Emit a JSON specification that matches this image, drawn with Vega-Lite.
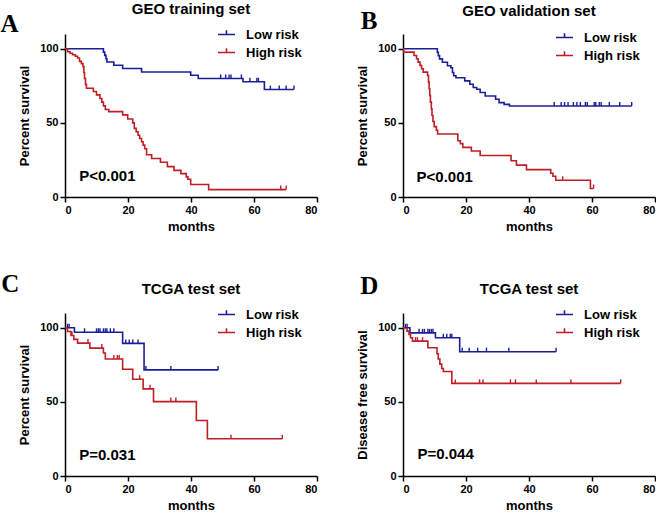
{
  "$schema": "https://vega.github.io/schema/vega-lite/v6.json",
  "background": "white",
  "padding": {"left": 0, "top": 2, "right": 0, "bottom": 0},
  "columns": 2,
  "align": "each",
  "spacing": {"row": 38, "column": 38},
  "resolve": {"scale": {"color": "independent", "stroke": "independent"}, "legend": {"color": "independent"}},
  "config": {
    "view": {"stroke": null},
    "axis": {
      "grid": false,
      "domainColor": "black", "domainWidth": 1.5,
      "tickColor": "black", "tickWidth": 1.5, "tickSize": 5,
      "labelFont": "Liberation Sans", "labelFontSize": 11, "labelFontWeight": "bold", "labelColor": "black", "labelPadding": 2,
      "titleFont": "Liberation Sans", "titleFontSize": 13, "titleFontWeight": "bold", "titleColor": "black"
    },
    "axisX": {"titlePadding": 5},
    "axisY": {"titlePadding": 8},
    "legend": {
      "symbolSize": 289, "symbolStrokeWidth": 1.6,
      "labelFont": "Liberation Sans", "labelFontSize": 13, "labelFontWeight": "bold", "labelColor": "black",
      "labelOffset": 10, "rowPadding": 1, "padding": 0
    },
    "title": {"font": "Liberation Sans", "fontSize": 15, "fontWeight": "bold", "color": "black", "anchor": "middle", "frame": "group"}
  },
  "datasets": {
    "A_curve": [
      {"group": "Low risk", "month": 0, "survival": 100},
      {"group": "Low risk", "month": 12.2, "survival": 97.8},
      {"group": "Low risk", "month": 12.6, "survival": 95.6},
      {"group": "Low risk", "month": 13, "survival": 93.3},
      {"group": "Low risk", "month": 13.3, "survival": 91.1},
      {"group": "Low risk", "month": 15.5, "survival": 88.9},
      {"group": "Low risk", "month": 18.3, "survival": 86.7},
      {"group": "Low risk", "month": 24.3, "survival": 84.4},
      {"group": "Low risk", "month": 39.9, "survival": 82.2},
      {"group": "Low risk", "month": 42.3, "survival": 80},
      {"group": "Low risk", "month": 56.5, "survival": 77.8},
      {"group": "Low risk", "month": 63.3, "survival": 72.5},
      {"group": "Low risk", "month": 72.7, "survival": 72.5},
      {"group": "High risk", "month": 0, "survival": 100},
      {"group": "High risk", "month": 0.8, "survival": 98},
      {"group": "High risk", "month": 1.6, "survival": 97},
      {"group": "High risk", "month": 2.4, "survival": 96},
      {"group": "High risk", "month": 3.3, "survival": 95},
      {"group": "High risk", "month": 4, "survival": 93.8},
      {"group": "High risk", "month": 4.6, "survival": 91.5},
      {"group": "High risk", "month": 5.2, "survival": 90},
      {"group": "High risk", "month": 5.7, "survival": 88},
      {"group": "High risk", "month": 6, "survival": 84},
      {"group": "High risk", "month": 6.2, "survival": 80},
      {"group": "High risk", "month": 6.5, "survival": 76},
      {"group": "High risk", "month": 6.8, "survival": 73.4},
      {"group": "High risk", "month": 9, "survival": 71.2},
      {"group": "High risk", "month": 10, "survival": 68.9},
      {"group": "High risk", "month": 11.1, "survival": 66.5},
      {"group": "High risk", "month": 11.7, "survival": 64},
      {"group": "High risk", "month": 12.2, "survival": 61.5},
      {"group": "High risk", "month": 12.8, "survival": 59},
      {"group": "High risk", "month": 13.9, "survival": 57.6},
      {"group": "High risk", "month": 18.3, "survival": 55.4},
      {"group": "High risk", "month": 19.9, "survival": 52.6},
      {"group": "High risk", "month": 21.5, "survival": 50},
      {"group": "High risk", "month": 22, "survival": 46.3},
      {"group": "High risk", "month": 22.6, "survival": 44},
      {"group": "High risk", "month": 23.2, "survival": 41.7},
      {"group": "High risk", "month": 23.7, "survival": 39.5},
      {"group": "High risk", "month": 24.3, "survival": 37.3},
      {"group": "High risk", "month": 24.8, "survival": 35},
      {"group": "High risk", "month": 25.3, "survival": 32.6},
      {"group": "High risk", "month": 25.9, "survival": 28.5},
      {"group": "High risk", "month": 27.5, "survival": 26},
      {"group": "High risk", "month": 30.3, "survival": 23.5},
      {"group": "High risk", "month": 32.5, "survival": 20.5},
      {"group": "High risk", "month": 34.6, "survival": 18},
      {"group": "High risk", "month": 36.8, "survival": 15.8},
      {"group": "High risk", "month": 38.5, "survival": 13.6},
      {"group": "High risk", "month": 39, "survival": 12},
      {"group": "High risk", "month": 39.9, "survival": 8.4},
      {"group": "High risk", "month": 45.6, "survival": 5},
      {"group": "High risk", "month": 70.2, "survival": 5}
    ],
    "A_censor": [
      {"group": "Low risk", "month": 49.4, "survival": 80},
      {"group": "Low risk", "month": 51, "survival": 80},
      {"group": "Low risk", "month": 52.1, "survival": 80},
      {"group": "Low risk", "month": 52.7, "survival": 80},
      {"group": "Low risk", "month": 56, "survival": 80},
      {"group": "Low risk", "month": 58.7, "survival": 77.8},
      {"group": "Low risk", "month": 60.9, "survival": 77.8},
      {"group": "Low risk", "month": 61.4, "survival": 77.8},
      {"group": "Low risk", "month": 65.2, "survival": 72.5},
      {"group": "Low risk", "month": 68, "survival": 72.5},
      {"group": "Low risk", "month": 70.2, "survival": 72.5},
      {"group": "Low risk", "month": 72.7, "survival": 72.5},
      {"group": "High risk", "month": 68.5, "survival": 5},
      {"group": "High risk", "month": 70.2, "survival": 5}
    ],
    "B_curve": [
      {"group": "Low risk", "month": 0, "survival": 100},
      {"group": "Low risk", "month": 10.9, "survival": 97.7},
      {"group": "Low risk", "month": 11.2, "survival": 95.4},
      {"group": "Low risk", "month": 11.6, "survival": 93.2},
      {"group": "Low risk", "month": 12.5, "survival": 90.9},
      {"group": "Low risk", "month": 14.1, "survival": 88.6},
      {"group": "Low risk", "month": 15.2, "survival": 87.2},
      {"group": "Low risk", "month": 15.7, "survival": 84},
      {"group": "Low risk", "month": 16.1, "survival": 81.8},
      {"group": "Low risk", "month": 16.8, "survival": 80.5},
      {"group": "Low risk", "month": 19.6, "survival": 78.4},
      {"group": "Low risk", "month": 21.2, "survival": 76.1},
      {"group": "Low risk", "month": 22.3, "survival": 73.9},
      {"group": "Low risk", "month": 23.4, "survival": 72.7},
      {"group": "Low risk", "month": 24.5, "survival": 70.5},
      {"group": "Low risk", "month": 26.1, "survival": 68.2},
      {"group": "Low risk", "month": 29.4, "survival": 66},
      {"group": "Low risk", "month": 30.5, "survival": 63.7},
      {"group": "Low risk", "month": 32.1, "survival": 62.5},
      {"group": "Low risk", "month": 33.8, "survival": 61.4},
      {"group": "Low risk", "month": 72.6, "survival": 61.4},
      {"group": "High risk", "month": 0, "survival": 100},
      {"group": "High risk", "month": 0.2, "survival": 97.8},
      {"group": "High risk", "month": 3.5, "survival": 95.5},
      {"group": "High risk", "month": 4.3, "survival": 93.3},
      {"group": "High risk", "month": 4.8, "survival": 91},
      {"group": "High risk", "month": 5.4, "survival": 88.8},
      {"group": "High risk", "month": 5.9, "survival": 86.5},
      {"group": "High risk", "month": 6.4, "survival": 84.3},
      {"group": "High risk", "month": 7.8, "survival": 82},
      {"group": "High risk", "month": 8.1, "survival": 77.5},
      {"group": "High risk", "month": 8.3, "survival": 73},
      {"group": "High risk", "month": 8.5, "survival": 68.5},
      {"group": "High risk", "month": 8.7, "survival": 64},
      {"group": "High risk", "month": 9, "survival": 59.5},
      {"group": "High risk", "month": 9.2, "survival": 55},
      {"group": "High risk", "month": 9.5, "survival": 51},
      {"group": "High risk", "month": 9.9, "survival": 47.5},
      {"group": "High risk", "month": 10.6, "survival": 45},
      {"group": "High risk", "month": 11, "survival": 42.5},
      {"group": "High risk", "month": 17.4, "survival": 38},
      {"group": "High risk", "month": 18.2, "survival": 36},
      {"group": "High risk", "month": 19, "survival": 33.5},
      {"group": "High risk", "month": 21.7, "survival": 31},
      {"group": "High risk", "month": 24.5, "survival": 28},
      {"group": "High risk", "month": 34.3, "survival": 24.5},
      {"group": "High risk", "month": 36, "survival": 21.5},
      {"group": "High risk", "month": 39.2, "survival": 18.5},
      {"group": "High risk", "month": 46.9, "survival": 16},
      {"group": "High risk", "month": 47.6, "survival": 14},
      {"group": "High risk", "month": 48.5, "survival": 11.3},
      {"group": "High risk", "month": 59.5, "survival": 5.7},
      {"group": "High risk", "month": 60.5, "survival": 5.7}
    ],
    "B_censor": [
      {"group": "Low risk", "month": 48, "survival": 61.4},
      {"group": "Low risk", "month": 50.2, "survival": 61.4},
      {"group": "Low risk", "month": 51.3, "survival": 61.4},
      {"group": "Low risk", "month": 52.4, "survival": 61.4},
      {"group": "Low risk", "month": 54.1, "survival": 61.4},
      {"group": "Low risk", "month": 55.2, "survival": 61.4},
      {"group": "Low risk", "month": 56.3, "survival": 61.4},
      {"group": "Low risk", "month": 57.9, "survival": 61.4},
      {"group": "Low risk", "month": 58.5, "survival": 61.4},
      {"group": "Low risk", "month": 60.7, "survival": 61.4},
      {"group": "Low risk", "month": 61.2, "survival": 61.4},
      {"group": "Low risk", "month": 62.3, "survival": 61.4},
      {"group": "Low risk", "month": 62.9, "survival": 61.4},
      {"group": "Low risk", "month": 65.5, "survival": 61.4},
      {"group": "Low risk", "month": 68.8, "survival": 61.4},
      {"group": "Low risk", "month": 72.6, "survival": 61.4},
      {"group": "High risk", "month": 50.7, "survival": 11.3},
      {"group": "High risk", "month": 60.5, "survival": 5.7}
    ],
    "C_curve": [
      {"group": "Low risk", "month": 0, "survival": 100},
      {"group": "Low risk", "month": 3, "survival": 97},
      {"group": "Low risk", "month": 18.3, "survival": 89.5},
      {"group": "Low risk", "month": 25.1, "survival": 71.6},
      {"group": "Low risk", "month": 48.6, "survival": 71.6},
      {"group": "High risk", "month": 0, "survival": 100},
      {"group": "High risk", "month": 0.8, "survival": 97.5},
      {"group": "High risk", "month": 1.9, "survival": 94.8},
      {"group": "High risk", "month": 2.8, "survival": 92.2},
      {"group": "High risk", "month": 4, "survival": 89.7},
      {"group": "High risk", "month": 7.9, "survival": 86.3},
      {"group": "High risk", "month": 12.2, "survival": 83},
      {"group": "High risk", "month": 12.8, "survival": 79},
      {"group": "High risk", "month": 18.3, "survival": 72},
      {"group": "High risk", "month": 21.5, "survival": 65.3},
      {"group": "High risk", "month": 24.8, "survival": 58.8},
      {"group": "High risk", "month": 28.1, "survival": 50.2},
      {"group": "High risk", "month": 41.7, "survival": 37.5},
      {"group": "High risk", "month": 45.2, "survival": 25.1},
      {"group": "High risk", "month": 69, "survival": 25.1}
    ],
    "C_censor": [
      {"group": "Low risk", "month": 0.8, "survival": 100},
      {"group": "Low risk", "month": 1.3, "survival": 100},
      {"group": "Low risk", "month": 6.2, "survival": 97},
      {"group": "Low risk", "month": 10, "survival": 97},
      {"group": "Low risk", "month": 10.6, "survival": 97},
      {"group": "Low risk", "month": 11.1, "survival": 97},
      {"group": "Low risk", "month": 12.2, "survival": 97},
      {"group": "Low risk", "month": 12.8, "survival": 97},
      {"group": "Low risk", "month": 13.3, "survival": 97},
      {"group": "Low risk", "month": 14.4, "survival": 97},
      {"group": "Low risk", "month": 15.5, "survival": 97},
      {"group": "Low risk", "month": 19.3, "survival": 89.5},
      {"group": "Low risk", "month": 20.4, "survival": 89.5},
      {"group": "Low risk", "month": 21.5, "survival": 89.5},
      {"group": "Low risk", "month": 23.2, "survival": 89.5},
      {"group": "Low risk", "month": 25.7, "survival": 71.6},
      {"group": "Low risk", "month": 33.6, "survival": 71.6},
      {"group": "Low risk", "month": 48.6, "survival": 71.6},
      {"group": "High risk", "month": 2.2, "survival": 94.8},
      {"group": "High risk", "month": 7.3, "survival": 89.7},
      {"group": "High risk", "month": 11.7, "survival": 86.3},
      {"group": "High risk", "month": 15.5, "survival": 79},
      {"group": "High risk", "month": 16.6, "survival": 79},
      {"group": "High risk", "month": 17.2, "survival": 79},
      {"group": "High risk", "month": 23.7, "survival": 65.3},
      {"group": "High risk", "month": 27, "survival": 58.8},
      {"group": "High risk", "month": 33.6, "survival": 50.2},
      {"group": "High risk", "month": 35.2, "survival": 50.2},
      {"group": "High risk", "month": 52.7, "survival": 25.1},
      {"group": "High risk", "month": 69, "survival": 25.1}
    ],
    "D_curve": [
      {"group": "Low risk", "month": 0, "survival": 100},
      {"group": "Low risk", "month": 2.2, "survival": 96.6},
      {"group": "Low risk", "month": 10.3, "survival": 93.3},
      {"group": "Low risk", "month": 18, "survival": 83.9},
      {"group": "Low risk", "month": 48.6, "survival": 83.9},
      {"group": "High risk", "month": 0, "survival": 100},
      {"group": "High risk", "month": 1.3, "survival": 97.8},
      {"group": "High risk", "month": 1.9, "survival": 95.5},
      {"group": "High risk", "month": 2.4, "survival": 93.3},
      {"group": "High risk", "month": 3, "survival": 91},
      {"group": "High risk", "month": 7.9, "survival": 86.5},
      {"group": "High risk", "month": 10.8, "survival": 82.5},
      {"group": "High risk", "month": 11.2, "survival": 79},
      {"group": "High risk", "month": 11.7, "survival": 75.5},
      {"group": "High risk", "month": 12.3, "survival": 72.5},
      {"group": "High risk", "month": 12.8, "survival": 70.5},
      {"group": "High risk", "month": 15.5, "survival": 62.5},
      {"group": "High risk", "month": 69.1, "survival": 62.5}
    ],
    "D_censor": [
      {"group": "Low risk", "month": 0.8, "survival": 100},
      {"group": "Low risk", "month": 1.3, "survival": 100},
      {"group": "Low risk", "month": 5.1, "survival": 96.6},
      {"group": "Low risk", "month": 6.2, "survival": 96.6},
      {"group": "Low risk", "month": 6.8, "survival": 96.6},
      {"group": "Low risk", "month": 7.9, "survival": 96.6},
      {"group": "Low risk", "month": 8.4, "survival": 96.6},
      {"group": "Low risk", "month": 9, "survival": 96.6},
      {"group": "Low risk", "month": 9.5, "survival": 96.6},
      {"group": "Low risk", "month": 12.8, "survival": 93.3},
      {"group": "Low risk", "month": 13.9, "survival": 93.3},
      {"group": "Low risk", "month": 15, "survival": 93.3},
      {"group": "Low risk", "month": 15.5, "survival": 93.3},
      {"group": "Low risk", "month": 18.8, "survival": 83.9},
      {"group": "Low risk", "month": 21, "survival": 83.9},
      {"group": "Low risk", "month": 23.7, "survival": 83.9},
      {"group": "Low risk", "month": 26.5, "survival": 83.9},
      {"group": "Low risk", "month": 33.6, "survival": 83.9},
      {"group": "Low risk", "month": 48.6, "survival": 83.9},
      {"group": "High risk", "month": 4, "survival": 91},
      {"group": "High risk", "month": 4.6, "survival": 91},
      {"group": "High risk", "month": 6.2, "survival": 91},
      {"group": "High risk", "month": 16.6, "survival": 62.5},
      {"group": "High risk", "month": 24.3, "survival": 62.5},
      {"group": "High risk", "month": 25.4, "survival": 62.5},
      {"group": "High risk", "month": 34.1, "survival": 62.5},
      {"group": "High risk", "month": 35.7, "survival": 62.5},
      {"group": "High risk", "month": 42.3, "survival": 62.5},
      {"group": "High risk", "month": 53.3, "survival": 62.5},
      {"group": "High risk", "month": 69.1, "survival": 62.5}
    ]
  },
  "concat": [
    {
      "title": {"text": "GEO training set", "offset": -5},
      "width": 252, "height": 163,
      "layer": [
        {"data": {"name": "A_curve"}, "mark": {"type": "line", "interpolate": "step-after", "strokeWidth": 1.6},
         "encoding": {
           "x": {"field": "month", "type": "quantitative", "scale": {"domain": [0, 80], "nice": false}, "axis": {"values": [0, 20, 40, 60, 80], "title": "months"}},
           "y": {"field": "survival", "type": "quantitative", "scale": {"domain": [0, 110], "nice": false}, "axis": {"values": [0, 50, 100], "title": "Percent survival"}},
           "color": {"field": "group", "type": "nominal", "scale": {"domain": ["Low risk", "High risk"], "range": ["#1b1f96", "#bf1e24"]},
             "legend": {"title": null, "orient": "none", "legendX": 152, "legendY": -9, "symbolType": "M-1,0H1M0,0V-0.5", "symbolSize": 289, "symbolStrokeWidth": 1.6, "labelFont": "Liberation Sans", "labelFontSize": 13, "labelFontWeight": "bold", "labelColor": "black", "labelOffset": 10, "rowPadding": 1, "padding": 0}}
         }},
        {"data": {"name": "A_censor"}, "mark": {"type": "point", "shape": "M0,0V-1", "size": 64, "filled": false, "strokeWidth": 1.4, "opacity": 1},
         "encoding": {
           "x": {"field": "month", "type": "quantitative"},
           "y": {"field": "survival", "type": "quantitative"},
           "stroke": {"field": "group", "type": "nominal", "scale": {"domain": ["Low risk", "High risk"], "range": ["#1b1f96", "#bf1e24"]}, "legend": null}
         }},
        {"data": {"values": [{}]}, "mark": {"type": "text", "text": "P<0.001", "align": "left", "baseline": "middle", "font": "Liberation Sans", "fontSize": 15, "fontWeight": "bold", "color": "black"},
         "encoding": {"x": {"datum": 4.5}, "y": {"datum": 14}}},
        {"data": {"values": [{}]}, "mark": {"type": "text", "text": "A", "align": "left", "baseline": "alphabetic", "font": "Liberation Serif", "fontSize": 25, "fontWeight": "bold", "color": "black"},
         "encoding": {"x": {"datum": -20.5}, "y": {"datum": 111.3}}}
      ]
    },
    {
      "title": {"text": "GEO validation set", "offset": -10},
      "width": 252, "height": 163,
      "layer": [
        {"data": {"name": "B_curve"}, "mark": {"type": "line", "interpolate": "step-after", "strokeWidth": 1.6},
         "encoding": {
           "x": {"field": "month", "type": "quantitative", "scale": {"domain": [0, 80], "nice": false}, "axis": {"values": [0, 20, 40, 60, 80], "title": "months"}},
           "y": {"field": "survival", "type": "quantitative", "scale": {"domain": [0, 110], "nice": false}, "axis": {"values": [0, 50, 100], "title": "Percent survival"}},
           "color": {"field": "group", "type": "nominal", "scale": {"domain": ["Low risk", "High risk"], "range": ["#1b1f96", "#bf1e24"]},
             "legend": {"title": null, "orient": "none", "legendX": 152, "legendY": -6, "symbolType": "M-1,0H1M0,0V-0.5", "symbolSize": 289, "symbolStrokeWidth": 1.6, "labelFont": "Liberation Sans", "labelFontSize": 13, "labelFontWeight": "bold", "labelColor": "black", "labelOffset": 10, "rowPadding": 1, "padding": 0}}
         }},
        {"data": {"name": "B_censor"}, "mark": {"type": "point", "shape": "M0,0V-1", "size": 64, "filled": false, "strokeWidth": 1.4, "opacity": 1},
         "encoding": {
           "x": {"field": "month", "type": "quantitative"},
           "y": {"field": "survival", "type": "quantitative"},
           "stroke": {"field": "group", "type": "nominal", "scale": {"domain": ["Low risk", "High risk"], "range": ["#1b1f96", "#bf1e24"]}, "legend": null}
         }},
        {"data": {"values": [{}]}, "mark": {"type": "text", "text": "P<0.001", "align": "left", "baseline": "middle", "font": "Liberation Sans", "fontSize": 15, "fontWeight": "bold", "color": "black"},
         "encoding": {"x": {"datum": 4.3}, "y": {"datum": 13.5}}},
        {"data": {"values": [{}]}, "mark": {"type": "text", "text": "B", "align": "left", "baseline": "alphabetic", "font": "Liberation Serif", "fontSize": 25, "fontWeight": "bold", "color": "black"},
         "encoding": {"x": {"datum": -13.4}, "y": {"datum": 113.4}}}
      ]
    },
    {
      "title": {"text": "TCGA test set", "offset": -25},
      "width": 252, "height": 163,
      "layer": [
        {"data": {"name": "C_curve"}, "mark": {"type": "line", "interpolate": "step-after", "strokeWidth": 1.6},
         "encoding": {
           "x": {"field": "month", "type": "quantitative", "scale": {"domain": [0, 80], "nice": false}, "axis": {"values": [0, 20, 40, 60, 80], "title": "months"}},
           "y": {"field": "survival", "type": "quantitative", "scale": {"domain": [0, 110], "nice": false}, "axis": {"values": [0, 50, 100], "title": "Percent survival"}},
           "color": {"field": "group", "type": "nominal", "scale": {"domain": ["Low risk", "High risk"], "range": ["#1b1f96", "#bf1e24"]},
             "legend": {"title": null, "orient": "none", "legendX": 152, "legendY": -8, "symbolType": "M-1,0H1M0,0V-0.5", "symbolSize": 289, "symbolStrokeWidth": 1.6, "labelFont": "Liberation Sans", "labelFontSize": 13, "labelFontWeight": "bold", "labelColor": "black", "labelOffset": 10, "rowPadding": 1, "padding": 0}}
         }},
        {"data": {"name": "C_censor"}, "mark": {"type": "point", "shape": "M0,0V-1", "size": 64, "filled": false, "strokeWidth": 1.4, "opacity": 1},
         "encoding": {
           "x": {"field": "month", "type": "quantitative"},
           "y": {"field": "survival", "type": "quantitative"},
           "stroke": {"field": "group", "type": "nominal", "scale": {"domain": ["Low risk", "High risk"], "range": ["#1b1f96", "#bf1e24"]}, "legend": null}
         }},
        {"data": {"values": [{}]}, "mark": {"type": "text", "text": "P=0.031", "align": "left", "baseline": "middle", "font": "Liberation Sans", "fontSize": 15, "fontWeight": "bold", "color": "black"},
         "encoding": {"x": {"datum": 4.5}, "y": {"datum": 14.2}}},
        {"data": {"values": [{}]}, "mark": {"type": "text", "text": "C", "align": "left", "baseline": "alphabetic", "font": "Liberation Serif", "fontSize": 25, "fontWeight": "bold", "color": "black"},
         "encoding": {"x": {"datum": -20.2}, "y": {"datum": 124.2}}}
      ]
    },
    {
      "title": {"text": "TCGA test set", "offset": -23},
      "width": 252, "height": 163,
      "layer": [
        {"data": {"name": "D_curve"}, "mark": {"type": "line", "interpolate": "step-after", "strokeWidth": 1.6},
         "encoding": {
           "x": {"field": "month", "type": "quantitative", "scale": {"domain": [0, 80], "nice": false}, "axis": {"values": [0, 20, 40, 60, 80], "title": "months"}},
           "y": {"field": "survival", "type": "quantitative", "scale": {"domain": [0, 110], "nice": false}, "axis": {"values": [0, 50, 100], "title": "Disease free survival"}},
           "color": {"field": "group", "type": "nominal", "scale": {"domain": ["Low risk", "High risk"], "range": ["#1b1f96", "#bf1e24"]},
             "legend": {"title": null, "orient": "none", "legendX": 152, "legendY": -8, "symbolType": "M-1,0H1M0,0V-0.5", "symbolSize": 289, "symbolStrokeWidth": 1.6, "labelFont": "Liberation Sans", "labelFontSize": 13, "labelFontWeight": "bold", "labelColor": "black", "labelOffset": 10, "rowPadding": 1, "padding": 0}}
         }},
        {"data": {"name": "D_censor"}, "mark": {"type": "point", "shape": "M0,0V-1", "size": 64, "filled": false, "strokeWidth": 1.4, "opacity": 1},
         "encoding": {
           "x": {"field": "month", "type": "quantitative"},
           "y": {"field": "survival", "type": "quantitative"},
           "stroke": {"field": "group", "type": "nominal", "scale": {"domain": ["Low risk", "High risk"], "range": ["#1b1f96", "#bf1e24"]}, "legend": null}
         }},
        {"data": {"values": [{}]}, "mark": {"type": "text", "text": "P=0.044", "align": "left", "baseline": "middle", "font": "Liberation Sans", "fontSize": 15, "fontWeight": "bold", "color": "black"},
         "encoding": {"x": {"datum": 4.6}, "y": {"datum": 14.8}}},
        {"data": {"values": [{}]}, "mark": {"type": "text", "text": "D", "align": "left", "baseline": "alphabetic", "font": "Liberation Serif", "fontSize": 25, "fontWeight": "bold", "color": "black"},
         "encoding": {"x": {"datum": -13.6}, "y": {"datum": 122.8}}}
      ]
    }
  ]
}
